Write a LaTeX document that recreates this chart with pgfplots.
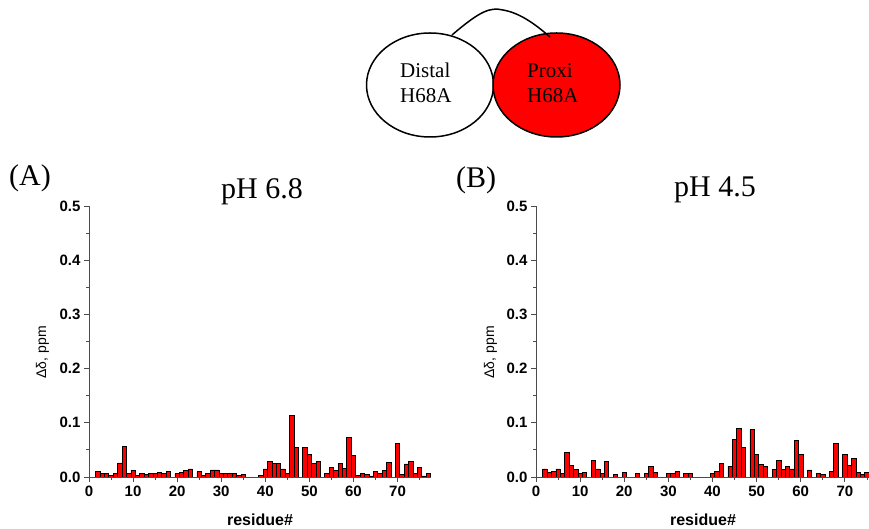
\documentclass[border=0pt]{standalone}
\usepackage{fontspec}
\setmainfont{Liberation Serif}
\newfontfamily\arial{Liberation Sans}
\usepackage{pgfplots}
\pgfplotsset{compat=1.18}

\pgfplotsset{
  nmrbars/.style={
    scale only axis, height=271pt,
    ymin=0, ymax=0.5, xmin=0,
    axis x line=bottom, axis y line=left,
    axis line style={-, line width=0.8pt, black!70},
    xtick={0,10,20,30,40,50,60,70},
    minor xtick={5,15,25,35,45,55,65,75},
    ytick={0,0.1,0.2,0.3,0.4,0.5},
    minor ytick={0.05,0.15,0.25,0.35,0.45},
    tick align=outside, major tick length=5pt, minor tick length=3pt,
    every tick/.style={line width=0.8pt, black!70},
    tick label style={font=\arial\bfseries\fontsize{15}{15}\selectfont},
    /pgf/number format/assume math mode=true,
    yticklabel style={/pgf/number format/.cd, fixed, fixed zerofill, precision=1},
    xlabel={residue\#},
    xlabel style={font=\arial\bfseries\fontsize{16}{16}\selectfont,
      at={(axis description cs:0.5,0)}, anchor=center, yshift=-43pt},
    ylabel={Δδ, ppm},
    ylabel style={font=\arial\fontsize{14}{14}\selectfont,
      at={(axis description cs:-0.136,0.46)}, anchor=center},
    ybar, bar width=1,
  },
}

\begin{document}
\begin{tikzpicture}[x=1pt,y=1pt]
\path[use as bounding box] (0,0) rectangle (869,529);

% cartoon of the two domains
\draw[line width=1.5pt, fill=white] (430,444) ellipse [x radius=63.5, y radius=52];
\draw[line width=1.5pt, fill=red] (556.5,444) ellipse [x radius=63.5, y radius=52];
\draw[line width=1.5pt] (452,494) .. controls (480,518) and (490,522) .. (503,519)
  .. controls (520,516) and (535,505) .. (550,492);
\node[anchor=west, align=left, font=\fontsize{21}{25}\selectfont, inner sep=0pt] at (400,446) {Distal\\H68A};
\node[anchor=west, align=left, font=\fontsize{21}{25}\selectfont, inner sep=0pt] at (527,446) {Proxi\\H68A};

% panel titles
\node[font=\fontsize{30}{30}\selectfont] at (30,351) {(A)};
\node[font=\fontsize{30}{30}\selectfont] at (262,337) {pH 6.8};
\node[font=\fontsize{30}{30}\selectfont] at (476,349) {(B)};
\node[font=\fontsize{30}{30}\selectfont] at (715,339) {pH 4.5};

\begin{axis}[nmrbars, at={(89pt,52pt)}, anchor=south west, width=342pt, xmax=77.6]
\addplot[fill=red, draw=black, line width=0.7pt] coordinates {
(2,0.011) (3,0.007) (4,0.006) (5,0.003) (6,0.006) (7,0.026) (8,0.056) (9,0.006)
(10,0.012) (11,0.003) (12,0.006) (13,0.005) (14,0.006) (15,0.006) (16,0.009)
(17,0.007) (18,0.011) (20,0.006) (21,0.009) (22,0.012) (23,0.015) (25,0.010)
(26,0.003) (27,0.007) (28,0.013) (29,0.013) (30,0.007) (31,0.007) (32,0.007)
(33,0.007) (34,0.003) (35,0.004) (39,0.003) (40,0.015) (41,0.029) (42,0.025)
(43,0.025) (44,0.015) (45,0.006) (46,0.114) (47,0.054) (49,0.054) (50,0.041)
(51,0.025) (52,0.028) (54,0.007) (55,0.017) (56,0.012) (57,0.025) (58,0.016)
(59,0.073) (60,0.040) (61,0.003) (62,0.006) (63,0.005) (64,0.002) (65,0.011)
(66,0.007) (67,0.012) (68,0.027) (70,0.062) (71,0.005) (72,0.024) (73,0.029)
(74,0.007) (75,0.018) (76,0.002) (77,0.006)
};
\end{axis}

\begin{axis}[nmrbars, at={(536pt,52pt)}, anchor=south west, width=334pt, xmax=75.7]
\addplot[fill=red, draw=black, line width=0.7pt] coordinates {
(2,0.015) (3,0.008) (4,0.010) (5,0.015) (6,0.007) (7,0.045) (8,0.021) (9,0.014)
(10,0.007) (11,0.009) (13,0.030) (14,0.015) (15,0.006) (16,0.028) (18,0.005)
(20,0.009) (23,0.006) (25,0.006) (26,0.020) (27,0.009) (30,0.006) (31,0.007)
(32,0.010) (34,0.007) (35,0.007) (40,0.006) (41,0.010) (42,0.025) (44,0.020)
(45,0.069) (46,0.090) (47,0.054) (49,0.088) (50,0.041) (51,0.023) (52,0.020)
(54,0.014) (55,0.030) (56,0.014) (57,0.020) (58,0.015) (59,0.068) (60,0.041)
(62,0.013) (64,0.007) (65,0.005) (67,0.010) (68,0.062) (70,0.041) (71,0.021)
(72,0.034) (73,0.008) (74,0.005) (75,0.009)
};
\end{axis}
\end{tikzpicture}
\end{document}
